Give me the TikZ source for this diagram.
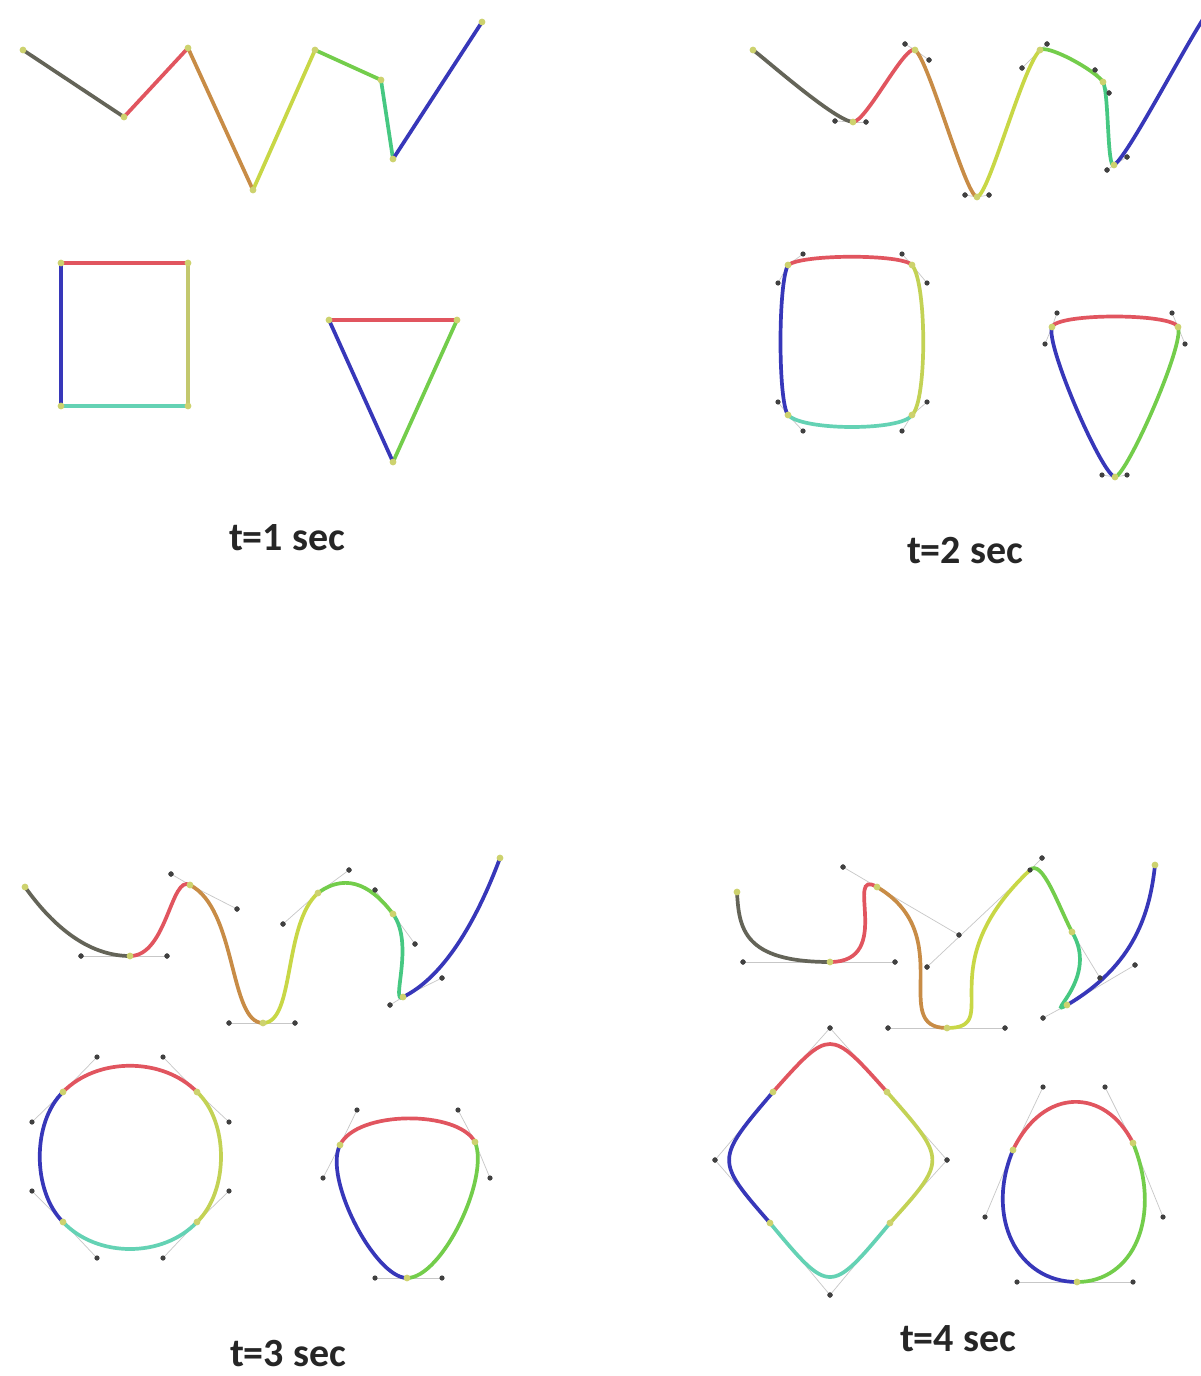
\documentclass[tikz,border=0pt]{standalone}
\usepackage{fontspec}
\setmainfont{Carlito}
\definecolor{cgrey}{RGB}{100,100,88}
\definecolor{cred}{RGB}{225,85,95}
\definecolor{corange}{RGB}{200,140,70}
\definecolor{cyellow}{RGB}{200,215,70}
\definecolor{cgreen}{RGB}{115,205,75}
\definecolor{cteal}{RGB}{70,200,130}
\definecolor{cblue}{RGB}{55,55,185}
\definecolor{colive}{RGB}{195,200,110}
\definecolor{cyolive}{RGB}{195,210,85}
\definecolor{caqua}{RGB}{100,210,180}
\definecolor{canc}{RGB}{205,210,110}
\tikzset{
  crv/.style={line width=1.85pt, line cap=round},
  hline/.style={draw=black!22, line width=0.35pt},
  hdotc/.style={fill=black!75},
  ancc/.style={fill=canc},
  lbl/.style={font=\bfseries\fontsize{20}{24}\selectfont, text=black!85, inner sep=0pt},
}
\newcommand{\segm}[5]{\draw[crv,#1] (#2) .. controls (#3) and (#4) .. (#5);}
\newcommand{\hnd}[2]{\draw[hline] (#1) -- (#2); \fill[hdotc] (#2) circle[radius=1.3pt];}
\newcommand{\anc}[1]{\fill[ancc] (#1) circle[radius=1.7pt];}
\begin{document}
\begin{tikzpicture}[x=0.5pt,y=-0.5pt]
\useasboundingbox (0,0) rectangle (1200,1376);
\fill[white] (0,0) rectangle (1200,1376);

% ================= Panel 1 : t=1 =================
\coordinate (a0) at (23,50);
\coordinate (a1) at (124,117);
\coordinate (a2) at (188,48);
\coordinate (a3) at (253,190);
\coordinate (a4) at (315,50);
\coordinate (a5) at (381,80);
\coordinate (a6) at (393,159);
\coordinate (a7) at (482,22);
\draw[crv,cgrey] (a0) -- (a1);
\draw[crv,cred] (a1) -- (a2);
\draw[crv,corange] (a2) -- (a3);
\draw[crv,cyellow] (a3) -- (a4);
\draw[crv,cgreen] (a4) -- (a5);
\draw[crv,cteal] (a5) -- (a6);
\draw[crv,cblue] (a6) -- (a7);
\foreach \p in {a0,a1,a2,a3,a4,a5,a6,a7} {\anc{\p}}

\coordinate (s1) at (61,263);
\coordinate (s2) at (188,263);
\coordinate (s3) at (188,406);
\coordinate (s4) at (61,406);
\draw[crv,cred] (s1) -- (s2);
\draw[crv,colive] (s2) -- (s3);
\draw[crv,caqua] (s3) -- (s4);
\draw[crv,cblue] (s4) -- (s1);
\foreach \p in {s1,s2,s3,s4} {\anc{\p}}

\coordinate (r1) at (329,320);
\coordinate (r2) at (457,320);
\coordinate (r3) at (393,462);
\draw[crv,cred] (r1) -- (r2);
\draw[crv,cgreen] (r2) -- (r3);
\draw[crv,cblue] (r3) -- (r1);
\foreach \p in {r1,r2,r3} {\anc{\p}}

\node[lbl] (l1) at (287,538) {t=1 sec};

% ================= Panel 2 : t=2 =================
\coordinate (b0) at (753,50);
\coordinate (b1) at (853,122);
\coordinate (b1l) at (835,121);
\coordinate (b1r) at (866,122);
\coordinate (b2) at (915,50);
\coordinate (b2l) at (905,44);
\coordinate (b2r) at (929,60);
\coordinate (b3) at (977,197);
\coordinate (b3l) at (965,195);
\coordinate (b3r) at (989,195);
\coordinate (b4) at (1040,50);
\coordinate (b4l) at (1022,68);
\coordinate (b4r) at (1047,44);
\coordinate (b5) at (1103,82);
\coordinate (b5l) at (1095,70);
\coordinate (b5r) at (1109,93);
\coordinate (b6) at (1114,165);
\coordinate (b6l) at (1107,170);
\coordinate (b6r) at (1127,157);
\coordinate (b7) at (1205,16);
\coordinate (b0c) at (763,57);
\coordinate (b7c) at (1180,55);
\foreach \a/\h in {b1/b1l,b1/b1r,b2/b2l,b2/b2r,b3/b3l,b3/b3r,b4/b4l,b4/b4r,b5/b5l,b5/b5r,b6/b6l,b6/b6r} {\hnd{\a}{\h}}
\segm{cgrey}{b0}{b0c}{b1l}{b1}
\segm{cred}{b1}{b1r}{b2l}{b2}
\segm{corange}{b2}{b2r}{b3l}{b3}
\segm{cyellow}{b3}{b3r}{b4l}{b4}
\segm{cgreen}{b4}{b4r}{b5l}{b5}
\segm{cteal}{b5}{b5r}{b6l}{b6}
\segm{cblue}{b6}{b6r}{b7c}{b7}
\foreach \p in {b0,b1,b2,b3,b4,b5,b6} {\anc{\p}}
\foreach \p in {b1l,b1r,b2l,b2r,b3l,b3r,b4l,b4r,b5l,b5r,b6l,b6r} {\fill[hdotc] (\p) circle[radius=1.3pt];}

\coordinate (q1) at (788,265);
\coordinate (q2) at (912,265);
\coordinate (q3) at (912,415);
\coordinate (q4) at (788,415);
\coordinate (q1t) at (803,254);
\coordinate (q2t) at (902,254);
\coordinate (q2r) at (927,283);
\coordinate (q3r) at (927,402);
\coordinate (q3b) at (902,431);
\coordinate (q4b) at (803,431);
\coordinate (q4l) at (778,402);
\coordinate (q1l) at (778,283);
\foreach \a/\h in {q1/q1t,q2/q2t,q2/q2r,q3/q3r,q3/q3b,q4/q4b,q4/q4l,q1/q1l} {\hnd{\a}{\h}}
\segm{cred}{q1}{q1t}{q2t}{q2}
\segm{cyolive}{q2}{q2r}{q3r}{q3}
\segm{caqua}{q3}{q3b}{q4b}{q4}
\segm{cblue}{q4}{q4l}{q1l}{q1}
\foreach \p in {q1,q2,q3,q4} {\anc{\p}}

\coordinate (t1) at (1052,327);
\coordinate (t2) at (1178,327);
\coordinate (t3) at (1115,477);
\coordinate (t1t) at (1057,313);
\coordinate (t2t) at (1172,313);
\coordinate (t1l) at (1045,344);
\coordinate (t2r) at (1185,344);
\coordinate (t3l) at (1102,475);
\coordinate (t3r) at (1127,475);
\foreach \a/\h in {t1/t1t,t2/t2t,t1/t1l,t2/t2r,t3/t3l,t3/t3r} {\hnd{\a}{\h}}
\segm{cred}{t1}{t1t}{t2t}{t2}
\segm{cgreen}{t2}{t2r}{t3r}{t3}
\segm{cblue}{t3}{t3l}{t1l}{t1}
\foreach \p in {t1,t2,t3} {\anc{\p}}

\node[lbl] (l2) at (965,551) {t=2 sec};

% ================= Panel 3 : t=3 =================
\coordinate (c0) at (25,887);
\coordinate (c0c) at (45,915);
\coordinate (c1) at (130,956);
\coordinate (c1l) at (81,956);
\coordinate (c1r) at (167,956);
\coordinate (c2) at (190,885);
\coordinate (c2l) at (171,874);
\coordinate (c2r) at (237,909);
\coordinate (c3) at (263,1023);
\coordinate (c3l) at (229,1023);
\coordinate (c3r) at (295,1023);
\coordinate (c4) at (318,893);
\coordinate (c4l) at (283,924);
\coordinate (c4r) at (349,870);
\coordinate (c5) at (393,914);
\coordinate (c5l) at (375,890);
\coordinate (c5r) at (415,944);
\coordinate (c6) at (403,997);
\coordinate (c6l) at (390,1005);
\coordinate (c6r) at (442,978);
\coordinate (c7c) at (475,925);
\coordinate (c7) at (500,858);
\foreach \a/\h in {c1/c1l,c1/c1r,c2/c2l,c2/c2r,c3/c3l,c3/c3r,c4/c4l,c4/c4r,c5/c5l,c5/c5r,c6/c6l,c6/c6r} {\hnd{\a}{\h}}
\segm{cgrey}{c0}{c0c}{c1l}{c1}
\segm{cred}{c1}{c1r}{c2l}{c2}
\segm{corange}{c2}{c2r}{c3l}{c3}
\segm{cyellow}{c3}{c3r}{c4l}{c4}
\segm{cgreen}{c4}{c4r}{c5l}{c5}
\segm{cteal}{c5}{c5r}{c6l}{c6}
\segm{cblue}{c6}{c6r}{c7c}{c7}
\foreach \p in {c0,c1,c2,c3,c4,c5,c6,c7} {\anc{\p}}
\foreach \p in {c1l,c1r,c2l,c2r,c3l,c3r,c4l,c4r,c5l,c5r,c6l,c6r} {\fill[hdotc] (\p) circle[radius=1.3pt];}

\coordinate (k1) at (63,1092);
\coordinate (k2) at (197,1092);
\coordinate (k3) at (197,1222);
\coordinate (k4) at (63,1222);
\coordinate (k1t) at (97,1057);
\coordinate (k2t) at (163,1057);
\coordinate (k2r) at (229,1122);
\coordinate (k3r) at (229,1191);
\coordinate (k3b) at (163,1258);
\coordinate (k4b) at (97,1258);
\coordinate (k4l) at (32,1191);
\coordinate (k1l) at (32,1122);
\foreach \a/\h in {k1/k1t,k2/k2t,k2/k2r,k3/k3r,k3/k3b,k4/k4b,k4/k4l,k1/k1l} {\hnd{\a}{\h}}
\segm{cred}{k1}{k1t}{k2t}{k2}
\segm{cyolive}{k2}{k2r}{k3r}{k3}
\segm{caqua}{k3}{k3b}{k4b}{k4}
\segm{cblue}{k4}{k4l}{k1l}{k1}
\foreach \p in {k1,k2,k3,k4} {\anc{\p}}

\coordinate (u1) at (340,1145);
\coordinate (u2) at (475,1142);
\coordinate (u3) at (407,1278);
\coordinate (u1t) at (357,1110);
\coordinate (u2t) at (458,1110);
\coordinate (u1l) at (323,1178);
\coordinate (u2r) at (490,1178);
\coordinate (u3l) at (375,1278);
\coordinate (u3r) at (442,1278);
\foreach \a/\h in {u1/u1t,u2/u2t,u1/u1l,u2/u2r,u3/u3l,u3/u3r} {\hnd{\a}{\h}}
\segm{cred}{u1}{u1t}{u2t}{u2}
\segm{cgreen}{u2}{u2r}{u3r}{u3}
\segm{cblue}{u3}{u3l}{u1l}{u1}
\foreach \p in {u1,u2,u3} {\anc{\p}}

\node[lbl] (l3) at (288,1354) {t=3 sec};

% ================= Panel 4 : t=4 =================
\coordinate (d0) at (737,892);
\coordinate (d0c) at (739,928);
\coordinate (d1) at (830,962);
\coordinate (d1l) at (743,962);
\coordinate (d1r) at (895,962);
\coordinate (d2) at (877,887);
\coordinate (d2l) at (843,867);
\coordinate (d2r) at (959,935);
\coordinate (d3) at (947,1028);
\coordinate (d3l) at (888,1028);
\coordinate (d3r) at (1005,1028);
\coordinate (d4) at (1030,870);
\coordinate (d4l) at (927,967);
\coordinate (d4r) at (1042,858);
\coordinate (d5) at (1072,932);
\coordinate (d5l) at (1058,905);
\coordinate (d5r) at (1100,978);
\coordinate (d6) at (1067,1005);
\coordinate (d6l) at (1043,1018);
\coordinate (d6r) at (1135,965);
\coordinate (d7c) at (1150,912);
\coordinate (d7) at (1155,865);
\foreach \a/\h in {d1/d1l,d1/d1r,d2/d2l,d2/d2r,d3/d3l,d3/d3r,d4/d4l,d4/d4r,d5/d5r,d6/d6l,d6/d6r} {\hnd{\a}{\h}}
\segm{cgrey}{d0}{d0c}{d1l}{d1}
\segm{cred}{d1}{d1r}{d2l}{d2}
\segm{corange}{d2}{d2r}{d3l}{d3}
\segm{cyellow}{d3}{d3r}{d4l}{d4}
\segm{cgreen}{d4}{d4r}{d5l}{d5}
\segm{cteal}{d5}{d5r}{d6l}{d6}
\segm{cblue}{d6}{d6r}{d7c}{d7}
\foreach \p in {d0,d1,d2,d3,d5,d6,d7} {\anc{\p}}
\foreach \p in {d1l,d1r,d2l,d2r,d3l,d3r,d4,d4l,d4r,d5r,d6l,d6r} {\fill[hdotc] (\p) circle[radius=1.3pt];}

\coordinate (e1) at (773,1092);
\coordinate (e2) at (887,1092);
\coordinate (e3) at (890,1223);
\coordinate (e4) at (770,1223);
\coordinate (et) at (830,1028);
\coordinate (er) at (947,1160);
\coordinate (eb) at (830,1295);
\coordinate (el) at (715,1160);
\foreach \a/\h in {e1/et,e2/et,e2/er,e3/er,e3/eb,e4/eb,e4/el,e1/el} {\hnd{\a}{\h}}
\segm{cred}{e1}{et}{et}{e2}
\segm{cyolive}{e2}{er}{er}{e3}
\segm{caqua}{e3}{eb}{eb}{e4}
\segm{cblue}{e4}{el}{el}{e1}
\foreach \p in {e1,e2,e3,e4} {\anc{\p}}

\coordinate (g1) at (1013,1150);
\coordinate (g2) at (1133,1143);
\coordinate (g3) at (1077,1282);
\coordinate (g1t) at (1043,1087);
\coordinate (g2t) at (1105,1087);
\coordinate (g1l) at (985,1217);
\coordinate (g2r) at (1163,1217);
\coordinate (g3l) at (1017,1282);
\coordinate (g3r) at (1133,1282);
\foreach \a/\h in {g1/g1t,g2/g2t,g1/g1l,g2/g2r,g3/g3l,g3/g3r} {\hnd{\a}{\h}}
\segm{cred}{g1}{g1t}{g2t}{g2}
\segm{cgreen}{g2}{g2r}{g3r}{g3}
\segm{cblue}{g3}{g3l}{g1l}{g1}
\foreach \p in {g1,g2,g3} {\anc{\p}}

\node[lbl] (l4) at (958,1339) {t=4 sec};
\end{tikzpicture}
\end{document}
